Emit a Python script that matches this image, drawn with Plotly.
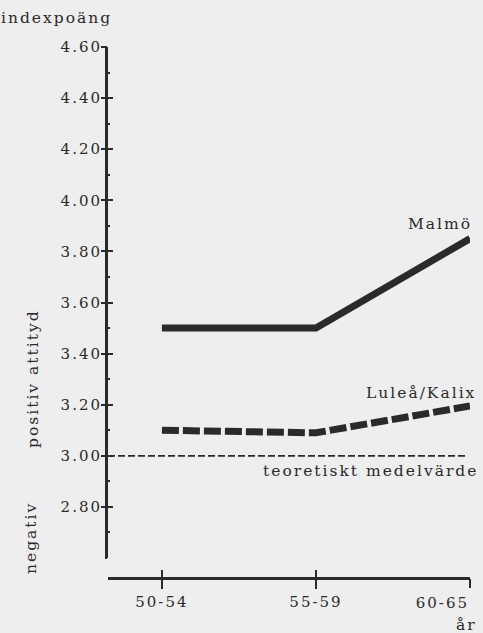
import plotly.graph_objects as go

periods = ["50-54", "55-59", "60-65"]
x_pos = [0, 1, 2]
malmo = [3.50, 3.50, 3.85]
lulea_kalix = [3.10, 3.09, 3.195]
mean_x = [-0.35, 1.97]
mean_y = [3.00, 3.00]
y_ticks = [2.80, 3.00, 3.20, 3.40, 3.60, 3.80, 4.00, 4.20, 4.40, 4.60]

INK = "#2a2a2a"
BG = "#eeeeee"
FONT = "DejaVu Serif"

W, H = 483, 633
L, R, T, B = 108, 13, 47, 55
plot_h = H - T - B
y_dom0 = 20 / plot_h
X_RANGE = [-0.35, 2.0]
Y_RANGE = [2.6, 4.6]

def px(xpix):
    return (xpix - L) / (W - L - R)

def py(ypix):
    return (H - B - ypix) / plot_h

fig = go.Figure()
fig.add_trace(go.Scatter(x=mean_x, y=mean_y, mode="lines",
                         line=dict(color=INK, width=1.8, dash="7px,3px"),
                         showlegend=False, hoverinfo="skip"))
fig.add_trace(go.Scatter(x=x_pos, y=malmo, mode="lines",
                         line=dict(color=INK, width=7),
                         showlegend=False))
fig.add_trace(go.Scatter(x=x_pos, y=lulea_kalix, mode="lines",
                         line=dict(color=INK, width=7, dash="17px,4px"),
                         showlegend=False))
# invisible points to activate the overlay axes
fig.add_trace(go.Scatter(x=[x_pos[0]], y=[mean_y[0]], xaxis="x2", yaxis="y2",
                         mode="markers", marker=dict(opacity=0), showlegend=False, hoverinfo="skip"))
fig.add_trace(go.Scatter(x=[x_pos[0]], y=[mean_y[0]], xaxis="x3", yaxis="y",
                         mode="markers", marker=dict(opacity=0), showlegend=False, hoverinfo="skip"))

tick_font = dict(family=FONT, size=15, color=INK)

fig.update_layout(
    width=W, height=H,
    margin=dict(l=L, r=R, t=T, b=B),
    paper_bgcolor=BG, plot_bgcolor=BG,
    font=tick_font,
    xaxis=dict(
        range=X_RANGE, tickvals=x_pos[:2], ticktext=periods[:2],
        showgrid=False, zeroline=False,
        showline=True, linecolor=INK, linewidth=3,
        ticks="outside", ticklen=9, tickwidth=2, tickcolor=INK,
        anchor="free", position=0,
        tickfont=tick_font,
    ),
    xaxis2=dict(
        range=X_RANGE, tickvals=x_pos, showticklabels=False,
        showgrid=False, zeroline=False, showline=False,
        ticks="inside", ticklen=8, tickwidth=2, tickcolor=INK,
        overlaying="x", anchor="free", position=0,
    ),
    xaxis3=dict(
        range=X_RANGE, tickvals=x_pos[2:], ticktext=periods[2:],
        showgrid=False, zeroline=False, showline=False,
        ticks="outside", ticklen=9, tickwidth=2, tickcolor=INK,
        ticklabelposition="outside left", ticklabelstandoff=11,
        overlaying="x", anchor="free", position=0,
        tickfont=tick_font,
    ),
    yaxis=dict(
        range=Y_RANGE, domain=[y_dom0, 1],
        tickvals=y_ticks, tickformat=".2f",
        showgrid=False, zeroline=False,
        showline=True, linecolor=INK, linewidth=3,
        ticks="inside", ticklen=5, tickwidth=2, tickcolor=INK,
        minor=dict(dtick=0.1, tick0=2.6, ticks="inside", ticklen=2, tickwidth=1.5, tickcolor=INK, showgrid=False),
        tickfont=tick_font,
    ),
    yaxis2=dict(
        range=Y_RANGE, domain=[y_dom0, 1],
        tickvals=y_ticks, showticklabels=False,
        showgrid=False, zeroline=False, showline=False,
        ticks="outside", ticklen=6, tickwidth=2, tickcolor=INK,
        minor=dict(dtick=0.1, tick0=2.6, ticks="outside", ticklen=2, tickwidth=1.5, tickcolor=INK, showgrid=False),
        overlaying="y", anchor="x", side="left",
    ),
)

ann_font = dict(family=FONT, size=15.5, color=INK)
annotations = [
    dict(text="indexpoäng", x=px(56), y=py(18)),
    dict(text="Malmö", x=px(440), y=py(224)),
    dict(text="Luleå/Kalix", x=px(421), y=py(393)),
    dict(text="teoretiskt medelvärde", x=px(370), y=py(471)),
    dict(text="år", x=px(466), y=py(625)),
    dict(text="positiv attityd", x=px(33), y=py(379), textangle=-90),
    dict(text="negativ", x=px(31), y=py(538), textangle=-90),
]
for a in annotations:
    a.update(xref="paper", yref="paper", xanchor="center", yanchor="middle",
             showarrow=False, font=ann_font)
fig.update_layout(annotations=annotations)

post = """
document.body.style.margin='0';
document.body.style.overflow='hidden';
var gd = document.getElementsByClassName('plotly-graph-div')[0];
gd.querySelectorAll('.annotation-text').forEach(function(e){e.style.letterSpacing='2px';});
gd.querySelectorAll('g.xtick text, g.ytick text, g.x3tick text').forEach(function(e){e.style.letterSpacing='2px';});
"""
fig.write_html("out.html", config={"displayModeBar": False}, post_script=post)
